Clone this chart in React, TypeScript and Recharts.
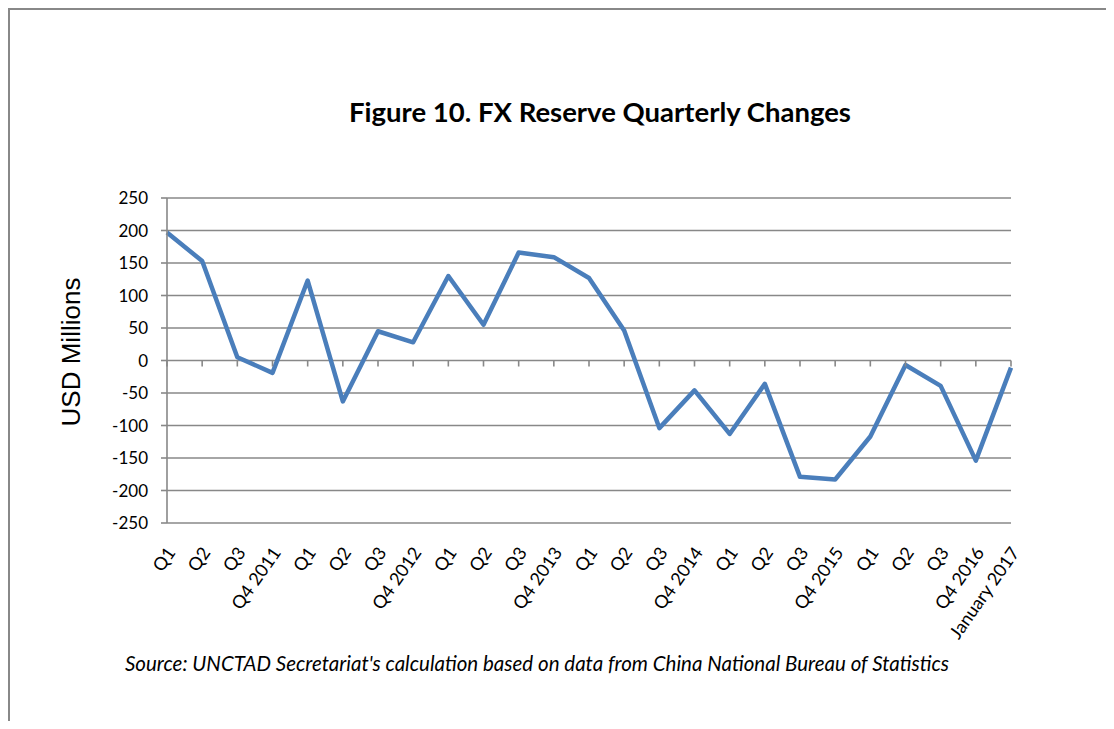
import { LineChart, Line, XAxis, YAxis, CartesianGrid, ReferenceDot } from 'recharts';

// quarter labels as printed under the axis
const QUARTERS = [
    'Q1', 'Q2', 'Q3', 'Q4 2011',
    'Q1', 'Q2', 'Q3', 'Q4 2012',
    'Q1', 'Q2', 'Q3', 'Q4 2013',
    'Q1', 'Q2', 'Q3', 'Q4 2014',
    'Q1', 'Q2', 'Q3', 'Q4 2015',
    'Q1', 'Q2', 'Q3', 'Q4 2016',
    'January 2017',
];

// FX reserve change per quarter, USD millions
const FX_CHANGES = [
    197, 153, 5, -19,
    123, -63, 45, 28,
    130, 55, 166, 159,
    127, 46, -104, -46,
    -113, -36, -179, -183,
    -117, -7, -39, -154,
    -11,
];

const Y_TICKS = [-250, -200, -150, -100, -50, 0, 50, 100, 150, 200, 250];

const GRID = '#888888';
const LINE_BLUE = '#4a7ebb';
const BODY_FONT = 'Lato, "Open Sans", sans-serif';

const chartData = FX_CHANGES.map((v, i) => ({ idx: i, value: v }));

function QuarterTick({ x, y, payload }: any) {
    return (
        <g transform={`translate(${x + 4},${y + 26})`}>
            <text
                textAnchor="end"
                transform="rotate(-55)"
                dy="0.35em"
                fill="#000"
                fontSize={18}
                fontFamily={BODY_FONT}
            >
                {QUARTERS[payload.value]}
            </text>
        </g>
    );
}

// small tick marks hanging under the zero line, one per category
function ZeroTick({ cx, cy }: any) {
    return <line x1={cx} y1={cy} x2={cx} y2={cy + 6} stroke={GRID} strokeWidth={1.6} />;
}

export default function App() {
    return (
        <div
            style={{
                position: 'relative',
                width: 1104,
                height: 711,
                borderTop: `2px solid ${GRID}`,
                borderLeft: `2px solid ${GRID}`,
                background: '#fff',
            }}
        >
            <div
                style={{
                    position: 'absolute',
                    left: 590,
                    top: 101,
                    transform: 'translate(-50%, -50%)',
                    whiteSpace: 'nowrap',
                    fontFamily: BODY_FONT,
                    fontWeight: 700,
                    fontSize: 27.5,
                    color: '#000',
                }}
            >
                Figure 10. FX Reserve Quarterly Changes
            </div>
            <div
                style={{
                    position: 'absolute',
                    left: 61,
                    top: 342,
                    transform: 'translate(-50%, -50%) rotate(-90deg)',
                    whiteSpace: 'nowrap',
                    fontFamily: '"Liberation Sans", Arial, sans-serif',
                    fontSize: 26,
                    color: '#000',
                }}
            >
                USD Millions
            </div>
            <div
                style={{
                    position: 'absolute',
                    left: 527,
                    top: 653,
                    transform: 'translate(-50%, -50%)',
                    whiteSpace: 'nowrap',
                    fontFamily: BODY_FONT,
                    fontStyle: 'italic',
                    fontSize: 20.5,
                    color: '#000',
                }}
            >
                Source: UNCTAD Secretariat's calculation based on data from China National Bureau of Statistics
            </div>
            <div style={{ position: 'absolute', left: 0, top: 0 }}>
                <LineChart
                    width={1104}
                    height={711}
                    data={chartData}
                    margin={{ top: 188, right: 103, left: 0, bottom: 98 }}
                >
                    <CartesianGrid vertical={false} stroke={GRID} strokeWidth={1.6} />
                    <XAxis
                        dataKey="idx"
                        type="category"
                        height={100}
                        interval={0}
                        axisLine={false}
                        tickLine={false}
                        tickSize={0}
                        tickMargin={0}
                        tick={<QuarterTick />}
                    />
                    <YAxis
                        width={157}
                        domain={[-250, 250]}
                        ticks={Y_TICKS}
                        interval={0}
                        allowDataOverflow
                        axisLine={{ stroke: GRID, strokeWidth: 1.6 }}
                        tickLine={{ stroke: GRID, strokeWidth: 1.6 }}
                        tickSize={6}
                        tickMargin={13}
                        tick={{ fill: '#000', fontSize: 17, fontFamily: BODY_FONT }}
                    />
                    {chartData.map(d => (
                        <ReferenceDot key={d.idx} x={d.idx} y={0} r={0} shape={<ZeroTick />} />
                    ))}
                    <Line
                        type="linear"
                        dataKey="value"
                        stroke={LINE_BLUE}
                        strokeWidth={4.5}
                        strokeLinejoin="round"
                        dot={false}
                        activeDot={false}
                        isAnimationActive={false}
                    />
                </LineChart>
            </div>
        </div>
    );
}
